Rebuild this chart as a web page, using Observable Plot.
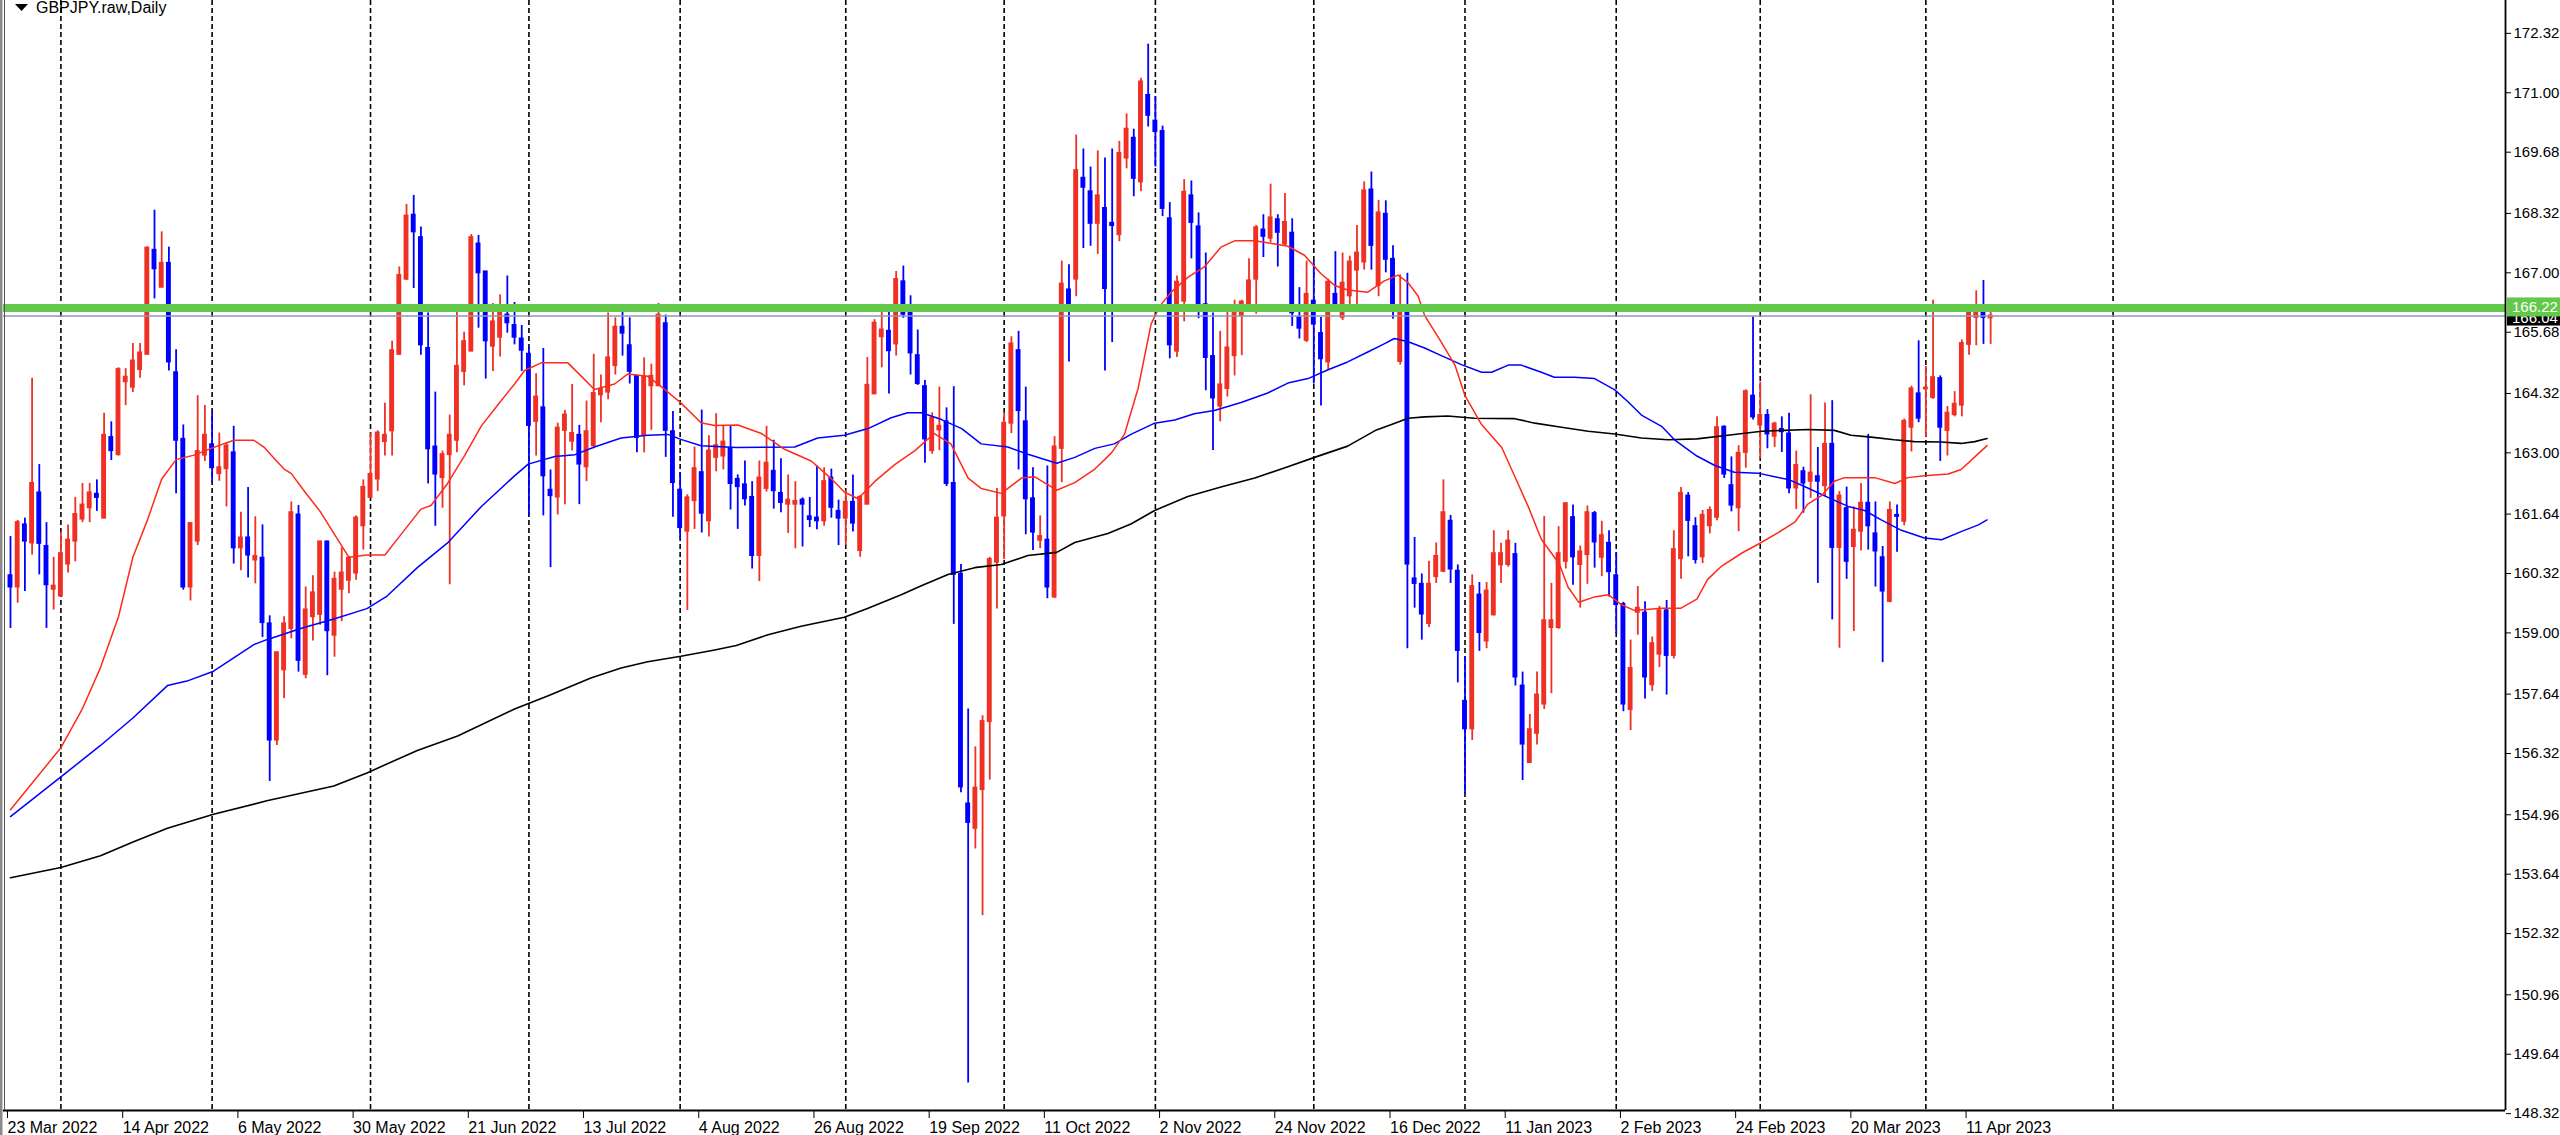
<!DOCTYPE html>
<html><head><meta charset="utf-8">
<script src="https://cdn.jsdelivr.net/npm/d3@7"></script>
<script src="https://cdn.jsdelivr.net/npm/@observablehq/plot@0.6"></script>
<style>
html,body{margin:0;padding:0;background:#fff;overflow:hidden}
#chart{position:relative;width:2560px;height:1135px}
</style></head><body><div id="chart"></div>
<script>
// ---- DATA (GBPJPY daily, bar index 0 = 23 Mar 2022) ----
const opens = [160.27,160.02,161.40,161.00,162.11,160.92,159.97,159.82,160.53,161.04,161.53,161.78,162.08,161.55,163.34,162.96,164.58,164.46,164.85,165.19,167.50,166.68,167.21,164.78,163.30,160.02,161.04,162.95,163.18,162.54,162.65,163.00,160.89,161.11,160.62,160.66,159.20,156.62,158.18,159.10,161.62,158.08,159.36,159.41,161.02,158.95,159.97,160.17,160.33,161.38,162.01,162.42,163.25,163.49,165.19,166.86,168.28,167.78,165.32,163.13,162.45,162.96,163.28,164.81,165.26,167.64,167.02,165.37,165.57,166.06,165.83,165.53,165.19,163.70,164.00,162.17,162.02,163.50,163.26,163.39,162.69,163.16,164.29,164.35,164.94,165.79,165.38,164.70,163.39,164.49,164.49,165.87,163.47,162.17,161.26,161.94,162.56,161.49,162.90,162.93,163.10,162.41,162.29,162.01,160.72,162.21,162.59,162.10,161.86,161.86,161.95,161.58,161.55,161.49,162.44,161.70,161.55,161.90,160.83,161.86,164.31,165.58,165.70,165.42,166.80,166.14,165.16,164.47,163.05,163.51,163.69,162.32,160.30,155.20,154.66,155.52,157.03,160.57,161.60,163.66,165.27,163.69,161.98,161.06,161.06,159.80,163.10,166.62,166.86,169.10,168.80,168.10,168.43,168.10,167.85,169.55,169.99,169.02,170.94,170.37,170.14,168.20,165.26,166.37,168.71,168.02,166.29,165.14,164.04,164.43,165.16,166.04,166.26,166.86,167.95,167.77,168.18,167.64,167.88,166.01,165.50,166.37,165.65,165.02,166.52,166.01,166.49,167.06,167.24,168.84,166.72,168.30,167.30,165.03,166.21,160.20,160.08,159.21,160.25,160.37,161.48,160.37,157.48,156.87,159.84,158.82,159.40,160.51,160.52,160.74,157.82,156.12,156.77,157.42,159.12,159.12,160.59,161.56,160.52,160.74,161.65,160.68,160.99,160.27,159.63,157.30,159.46,159.44,157.85,158.53,159.49,158.50,160.65,162.04,161.36,160.69,161.38,161.57,163.57,162.27,161.78,163.01,164.26,163.62,163.83,163.37,163.52,163.42,162.22,162.58,162.37,162.47,162.27,163.19,160.90,161.76,160.92,161.26,161.88,161.20,160.67,159.70,161.61,161.48,163.57,164.31,164.42,164.23,164.65,163.50,163.85,164.06,165.41,166.01,166.18,166.00];
const highs = [161.14,161.50,161.55,164.66,162.74,161.45,160.68,161.24,161.40,162.01,162.32,162.32,162.40,163.88,163.69,164.89,164.87,165.43,165.43,167.57,168.39,167.91,167.57,165.29,163.62,161.43,164.27,164.05,163.90,163.44,163.23,163.59,161.68,162.23,161.58,161.40,159.38,158.56,159.36,161.91,161.83,160.02,160.27,161.04,161.04,160.35,160.89,160.70,161.60,162.40,163.44,163.49,164.10,165.48,167.13,168.52,168.72,168.02,166.11,164.35,163.04,163.84,166.25,165.68,167.85,167.83,167.02,166.32,166.51,166.93,166.34,165.83,165.34,164.76,165.32,162.62,163.66,163.94,164.52,163.61,164.15,165.19,164.73,166.11,166.00,166.25,166.00,164.70,165.11,164.97,166.32,166.06,163.92,162.56,162.07,163.13,163.95,163.38,163.87,163.61,163.61,162.51,162.82,162.36,162.82,163.59,163.28,162.87,162.51,162.36,162.00,162.01,162.71,162.67,162.64,161.95,162.16,162.51,162.05,165.12,165.96,166.30,166.23,167.03,167.15,166.49,165.73,164.61,163.89,164.46,164.00,164.47,160.52,157.31,156.47,157.16,160.68,162.21,163.89,165.58,165.70,164.46,162.67,161.60,162.71,163.36,167.26,167.18,170.06,169.75,169.35,169.71,169.55,169.75,169.92,170.53,170.19,171.32,172.08,170.91,170.26,168.56,166.93,169.07,169.04,168.33,167.44,166.11,165.70,166.21,166.39,166.39,167.31,168.05,168.29,168.97,168.29,168.76,168.20,166.67,167.26,167.26,166.01,166.86,167.47,167.44,167.37,168.05,169.02,169.24,168.61,168.60,167.60,166.95,166.99,161.12,160.31,160.59,161.00,162.40,161.61,160.51,158.47,160.29,160.12,160.12,161.27,160.99,161.27,160.99,158.13,157.19,158.13,161.59,160.10,161.36,161.89,161.84,160.93,161.82,161.70,161.48,161.27,160.78,159.68,158.84,160.03,159.69,158.91,159.59,159.72,161.27,162.23,162.12,161.56,161.72,161.80,163.80,163.60,162.91,163.16,164.40,166.02,164.57,163.96,163.68,163.80,163.88,163.04,162.68,164.29,163.12,164.11,164.16,162.14,162.24,161.80,162.32,163.41,161.91,160.92,161.91,161.84,163.75,164.48,165.49,164.92,166.39,164.71,164.03,164.36,165.51,166.20,166.60,166.83,166.20];
const lows = [159.10,159.66,159.92,160.73,160.29,159.10,159.51,159.82,160.33,160.58,161.45,161.45,161.70,161.55,162.83,162.93,164.05,164.34,164.66,165.17,166.42,166.68,164.82,162.09,159.95,159.71,160.94,162.81,162.34,162.37,161.80,160.53,160.38,160.22,160.09,158.90,155.70,156.50,157.54,158.87,158.13,157.98,158.82,159.17,158.05,158.46,159.25,159.87,160.17,160.84,162.01,162.14,162.93,162.93,165.17,166.83,166.65,165.17,162.31,161.37,161.77,160.07,163.00,164.49,165.26,165.77,164.64,164.81,165.13,165.66,165.40,164.81,161.60,162.93,161.60,160.45,161.62,161.85,163.04,161.85,162.36,163.09,163.67,164.18,164.73,165.15,164.53,163.00,163.00,163.50,164.49,162.90,161.57,161.09,159.50,161.30,161.22,161.13,162.58,162.62,161.73,161.30,161.82,160.42,160.14,162.13,161.75,161.67,161.21,160.87,160.91,161.34,161.29,161.37,161.55,160.94,160.94,161.24,160.68,161.86,164.31,164.89,164.31,165.15,165.99,164.73,164.50,162.77,162.97,163.05,162.25,159.19,155.45,149.00,154.20,152.72,155.73,159.53,160.63,163.43,162.62,161.18,160.83,160.87,159.76,159.76,162.34,165.02,166.47,167.54,167.59,167.41,164.82,165.45,167.69,169.31,168.69,168.80,170.24,169.35,168.25,165.09,165.12,165.91,167.31,165.98,164.38,163.05,163.69,164.24,164.71,165.16,166.14,166.08,167.34,167.67,167.13,167.59,165.81,165.53,165.45,164.53,164.04,164.83,166.14,165.94,166.26,166.16,167.06,167.06,166.47,167.00,165.97,164.95,158.65,159.55,158.84,159.12,160.10,160.34,160.10,157.89,155.42,156.61,158.59,158.65,159.38,160.10,160.46,157.82,155.72,156.10,156.51,157.30,157.65,159.08,160.42,160.06,159.55,160.08,160.44,160.25,159.80,158.98,157.25,156.83,158.95,157.53,157.70,158.23,157.62,158.42,160.19,160.69,160.53,160.54,161.20,161.49,162.43,161.69,161.25,162.66,163.73,162.87,163.09,163.12,163.01,162.09,161.74,161.66,161.99,160.10,162.03,159.29,158.66,160.19,159.03,160.82,160.84,160.02,158.34,159.67,160.79,161.38,163.02,163.67,163.35,164.19,162.81,162.93,163.80,163.80,165.17,165.38,165.41,165.41];
const closes = [160.02,161.45,161.04,162.32,160.99,160.07,160.04,160.76,161.06,161.63,161.84,162.11,162.01,163.39,163.05,164.85,164.68,165.04,165.22,167.55,167.09,167.21,165.02,163.28,160.02,161.43,163.03,163.39,162.67,162.67,163.15,160.89,161.11,160.73,160.70,159.23,156.62,158.56,159.20,161.67,158.39,159.51,159.89,161.02,159.05,160.19,160.33,160.66,161.55,162.23,162.52,163.44,163.39,165.27,166.94,168.26,167.91,165.40,163.09,162.53,162.96,163.39,164.92,165.47,167.78,167.00,165.49,165.91,166.19,165.89,165.57,165.28,163.61,164.24,162.49,162.05,163.55,163.84,163.43,162.75,163.47,164.32,164.41,165.11,165.79,165.66,164.81,163.34,164.69,164.70,166.06,163.50,162.34,161.34,162.00,162.65,161.66,163.04,163.16,163.24,162.32,162.25,161.98,160.72,162.44,162.77,162.16,161.90,161.95,161.92,161.86,161.52,161.49,162.36,161.79,161.55,161.90,161.44,162.01,164.50,165.88,165.73,165.27,166.85,166.08,165.22,164.54,163.31,163.77,163.59,162.32,160.30,155.58,154.79,155.55,157.03,160.63,161.55,163.66,165.42,163.94,161.98,161.24,161.14,160.02,163.13,166.75,166.26,169.27,168.90,168.10,168.71,166.65,168.05,169.65,170.19,169.10,171.24,170.50,170.14,168.43,165.40,166.79,168.79,168.12,166.26,165.12,164.22,164.51,165.33,166.23,166.35,166.82,168.00,167.81,168.22,167.90,168.12,166.11,165.77,166.52,165.86,165.09,166.79,166.21,166.77,167.24,167.44,168.82,167.61,168.33,167.30,166.14,166.27,160.53,160.10,159.42,160.08,160.70,161.67,160.42,158.61,156.87,160.03,159.01,159.93,160.76,160.76,161.04,158.02,156.53,156.85,157.62,159.27,159.27,160.76,161.87,160.69,160.80,161.67,161.02,161.16,160.36,159.63,157.42,158.21,159.55,158.02,158.76,159.49,158.50,160.85,162.10,161.50,160.63,161.61,161.72,163.56,162.53,161.84,162.99,164.36,163.80,163.83,163.42,163.64,163.47,162.22,162.72,162.33,162.55,162.37,163.19,160.90,162.04,160.59,161.28,161.88,161.38,160.82,159.93,161.72,161.59,163.70,164.42,163.77,164.44,164.67,163.57,163.88,164.08,165.43,166.15,166.18,166.01,166.04];

// moving averages: [bar index, price]
const maFast = [[0,155.07],[7,156.45],[10,157.32],[12.5,158.23],[15,159.36],[17,160.68],[19,161.5],[21,162.42],[23,162.85],[25.5,162.95],[28.7,163.15],[31,163.28],[33.8,163.28],[35.2,163.13],[36.6,162.88],[38,162.64],[39,162.54],[41,162.11],[43,161.7],[45,161.19],[47,160.68],[49.5,160.73],[52,160.73],[54,161.14],[57,161.75],[58.4,161.83],[60.7,162.32],[63,162.92],[65.4,163.6],[67.7,164.07],[70,164.53],[71.4,164.83],[73.7,165.0],[77.4,165.0],[79.3,164.7],[81.1,164.41],[83.9,164.53],[85.7,164.75],[88.5,164.7],[90.4,164.47],[93.1,164.11],[95.9,163.67],[97.8,163.61],[101,163.62],[104.3,163.43],[107.5,163.08],[111.2,162.82],[113.9,162.44],[115.8,162.13],[117.7,161.98],[120,162.36],[122.8,162.74],[125.6,163.05],[128.3,163.43],[130.6,163.2],[133,162.44],[134.8,162.21],[137.6,162.1],[140.4,162.44],[142.2,162.47],[145.3,162.17],[147.8,162.34],[150.6,162.64],[152.9,163.0],[154.7,163.41],[156.6,164.43],[158.4,165.86],[159.6,166.26],[161.2,166.57],[163.5,166.9],[165.8,167.13],[168.1,167.57],[170,167.71],[172.8,167.71],[175.6,167.64],[177.4,167.59],[179.7,167.39],[182,166.98],[183.9,166.72],[185.7,166.62],[188.5,166.57],[190.8,166.82],[192.7,166.95],[194.1,166.78],[195.5,166.48],[196.4,166.05],[198.7,165.46],[200.6,164.95],[202,164.27],[204.3,163.63],[207.1,163.12],[208.9,162.48],[210.8,161.8],[212.6,161.08],[215.1,160.53],[216.3,160.02],[217.8,159.68],[220,159.8],[221.9,159.85],[223.7,159.63],[225.5,159.5],[229.3,159.55],[232,159.55],[234.2,159.75],[235.7,160.19],[237.6,160.48],[240.4,160.77],[242.7,160.97],[245.5,161.23],[247.8,161.46],[249.6,161.86],[251.5,162.05],[253.3,162.37],[254.7,162.45],[258.9,162.45],[261.7,162.32],[263.5,162.45],[265.8,162.49],[269.1,162.53],[270.9,162.63],[272.8,162.91],[274.5,163.16]];
const maMid = [[0,154.92],[7,155.8],[12.5,156.5],[17,157.11],[21.8,157.83],[24.5,157.93],[28.2,158.15],[33.8,158.74],[35.6,158.85],[40.3,159.1],[44.9,159.31],[49.5,159.54],[52.3,159.82],[56.5,160.45],[60.7,161.0],[65.4,161.81],[70,162.49],[71.9,162.75],[75.6,162.92],[78.4,162.96],[81.1,163.13],[84.8,163.33],[88.5,163.39],[91.3,163.41],[93.1,163.3],[95.9,163.16],[100.8,163.12],[108.9,163.13],[112.1,163.33],[115.8,163.39],[119.1,163.54],[122.3,163.78],[124.6,163.89],[126.5,163.89],[129.3,163.74],[132.1,163.54],[134.8,163.2],[138.5,163.13],[141.3,162.97],[145.3,162.77],[147.8,162.9],[150.6,163.1],[153.3,163.2],[155.6,163.41],[158.9,163.66],[161.7,163.73],[164.4,163.87],[167.2,163.94],[170.9,164.12],[174.6,164.33],[177.4,164.55],[180.2,164.65],[182.9,164.84],[185.7,165.02],[188.5,165.24],[190.5,165.4],[192.2,165.54],[194.1,165.47],[196.4,165.33],[198.7,165.16],[201.5,164.96],[204.3,164.79],[205.7,164.79],[208,164.95],[209.8,164.95],[212.6,164.79],[214.4,164.68],[217.2,164.68],[220,164.65],[222.8,164.4],[224.6,164.14],[226.5,163.84],[229.3,163.59],[231.1,163.29],[234.2,162.93],[236.7,162.72],[239.4,162.57],[242.7,162.55],[245,162.47],[246.9,162.41],[249.6,162.22],[252.4,162.01],[255.2,161.81],[257.5,161.72],[259.8,161.51],[262.6,161.28],[265.8,161.11],[268.2,161.07],[270.9,161.25],[273.3,161.4],[274.5,161.51]];
const maSlow = [[0,153.56],[7,153.79],[12.5,154.05],[17.1,154.36],[21.8,154.66],[28.2,154.97],[35.6,155.27],[44.9,155.6],[49.5,155.89],[56.5,156.39],[62.1,156.71],[70,157.31],[74.6,157.6],[80.6,158.0],[84.8,158.22],[88.5,158.36],[93.1,158.48],[97.8,158.62],[100.8,158.72],[105.2,158.96],[109.8,159.15],[115.8,159.35],[119.1,159.55],[123.7,159.85],[126.5,160.05],[130.2,160.3],[133.9,160.45],[137.6,160.52],[141.3,160.72],[145.3,160.79],[147.8,161.01],[152.4,161.21],[155.6,161.42],[158.9,161.72],[163.5,162.03],[168.1,162.24],[172.8,162.44],[177.4,162.69],[181.1,162.9],[185.7,163.15],[189.7,163.51],[191.8,163.63],[194.1,163.77],[196.4,163.8],[199.6,163.82],[203.3,163.77],[208.9,163.76],[211.7,163.66],[215.4,163.57],[219.1,163.48],[222.8,163.42],[226.5,163.33],[230.2,163.29],[234.2,163.31],[238.5,163.39],[243.2,163.48],[249.6,163.52],[253.3,163.5],[255.6,163.39],[258.4,163.35],[261.6,163.29],[264.4,163.25],[268.1,163.24],[270.9,163.21],[272.8,163.25],[274.5,163.32]];

const dateTickBars = [0,16,32,48,64,80,96,112,128,144,160,176,192,208,224,240,256,272];
const dateTickLabels = ["23 Mar 2022","14 Apr 2022","6 May 2022","30 May 2022","21 Jun 2022","13 Jul 2022","4 Aug 2022","26 Aug 2022","19 Sep 2022","11 Oct 2022","2 Nov 2022","24 Nov 2022","16 Dec 2022","11 Jan 2023","2 Feb 2023","24 Feb 2023","20 Mar 2023","11 Apr 2023"];
const monthSeparatorBars = [7,28,50,72,93,116,138,159,181,202,223,243,266,292];
const priceTicks = [148.32,149.64,150.96,152.32,153.64,154.96,156.32,157.64,159.00,160.32,161.64,163.00,164.32,165.68,167.00,168.32,169.68,171.00,172.32];
const levelLine = 166.22;
const bidPrice = 166.04;
const title = "GBPJPY.raw,Daily";

// ---- CHART ----
const bars = opens.map((o, i) => ({i, o, h: highs[i], l: lows[i], c: closes[i]}));
const BULL = "#ee3124", BEAR = "#0000ff";
const col = d => d.c >= d.o ? BULL : BEAR;
const xDomain = [-0.97, 346.5];
const yDomain = [148.39, 173.05];
const labelOf = new Map(dateTickBars.map((b, k) => [b, dateTickLabels[k]]));
const FONT = "'Liberation Sans', Arial, 'DejaVu Sans', sans-serif";

const chart = Plot.plot({
  width: 2560, height: 1135,
  marginLeft: 3, marginRight: 55, marginTop: 0, marginBottom: 25,
  style: {fontFamily: FONT, fontSize: "16px", color: "#000", background: "#fff"},
  x: {domain: xDomain, label: null},
  y: {domain: yDomain, label: null},
  marks: [
    Plot.ruleX(monthSeparatorBars, {stroke: "#000", strokeWidth: 1.6, strokeDasharray: "5,3"}),
    Plot.ruleX(bars, {x: "i", y1: "l", y2: "h", stroke: col, strokeWidth: 1.8}),
    Plot.rect(bars, {x1: d => d.i - 0.34, x2: d => d.i + 0.34,
      y1: d => Math.min(d.o, d.c), y2: d => Math.max(d.o, d.c),
      fill: col, insetTop: -1, insetBottom: -1}),
    Plot.line(maSlow, {x: d => d[0], y: d => d[1], stroke: "#000", strokeWidth: 1.6}),
    Plot.line(maMid, {x: d => d[0], y: d => d[1], stroke: "#0000ff", strokeWidth: 1.5}),
    Plot.line(maFast, {x: d => d[0], y: d => d[1], stroke: "#ff2a1a", strokeWidth: 1.5}),
    Plot.ruleY([bidPrice], {stroke: "#8e9ab0", strokeWidth: 1.6}),
    Plot.ruleY([levelLine], {stroke: "#63c94a", strokeWidth: 8}),
    Plot.ruleY([yDomain[0]], {stroke: "#000", strokeWidth: 1.8}),
    Plot.ruleX([xDomain[1]], {stroke: "#000", strokeWidth: 1.8}),
    Plot.axisY(priceTicks, {anchor: "right", tickSize: 5, tickPadding: 3, label: null,
      tickFormat: d => d.toFixed(2), fontSize: 15}),
    Plot.axisX(dateTickBars, {anchor: "bottom", tickSize: 8, tickPadding: 3, label: null,
      tickFormat: d => labelOf.get(d), textAnchor: "start", dx: -3, fontSize: 16})
  ]
});

document.getElementById("chart").appendChild(chart);
const svg = d3.select(chart);
const ys = chart.scale("y");
const yBid = ys.apply(bidPrice), yLvl = ys.apply(levelLine);
const axisX0 = 2507;
const addText = (x, y, txt, fill, size) => svg.append("text")
  .attr("x", x).attr("y", y).attr("fill", fill).attr("text-anchor", "start")
  .style("font", `${size}px ${FONT}`).text(txt);

// bid label (partly covered by the level label)
svg.append("rect").attr("x", axisX0).attr("y", yBid - 8).attr("width", 60).attr("height", 18).attr("fill", "#000");
addText(axisX0 + 5, yBid + 7, bidPrice.toFixed(2), "#fff", 15);
// level label
svg.append("rect").attr("x", axisX0).attr("y", yLvl - 10).attr("width", 60).attr("height", 19).attr("fill", "#63c94a");
addText(axisX0 + 5, yLvl + 5, levelLine.toFixed(2), "#fff", 15);

// left window border
svg.append("rect").attr("x", 0).attr("y", 0).attr("width", 2.5).attr("height", 1135).attr("fill", "#8a8a8a");
svg.append("line").attr("x1", 4.5).attr("x2", 4.5).attr("y1", 0).attr("y2", 1110).attr("stroke", "#555").attr("stroke-width", 1);

// title with small triangle
svg.append("path").attr("d", "M15,4 L28,4 L21.5,11 Z").attr("fill", "#000");
addText(36, 13, title, "#000", 16);
</script>
</body></html>
